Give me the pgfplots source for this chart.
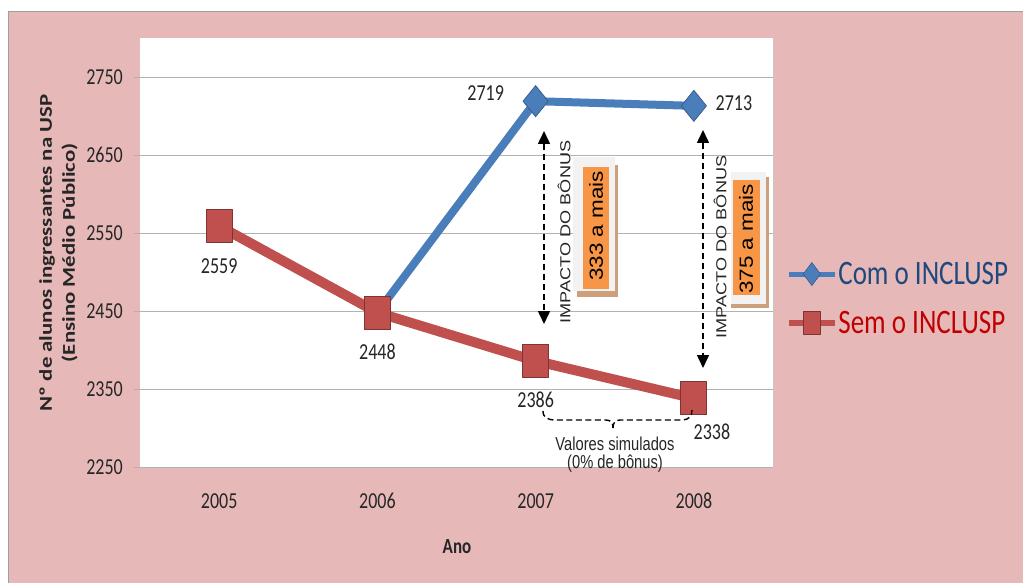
\documentclass[border=0pt]{standalone}
\usepackage{pgfplots}
\pgfplotsset{compat=1.18}
\usepackage{pgfplotstable}
\usepackage{graphicx}
\usepackage{fontspec}
\setmainfont{Carlito}
\newfontfamily\arial{Liberation Sans}
\usetikzlibrary{arrows.meta}
\definecolor{bgpink}{RGB}{230,185,184}
\definecolor{cblue}{RGB}{74,126,187}
\definecolor{cred}{RGB}{192,80,77}
\definecolor{cgrid}{RGB}{178,178,178}
\definecolor{legblue}{RGB}{31,73,125}
\definecolor{legred}{RGB}{192,0,0}
\definecolor{borange}{RGB}{247,150,70}
\definecolor{btan}{RGB}{205,160,125}
\definecolor{bgray}{RGB}{242,242,242}
\definecolor{txt}{RGB}{38,38,38}
\newcommand{\fs}[1]{\fontsize{#1pt}{#1pt}\selectfont}
\newcommand{\sy}[1]{\scalebox{1}[1.27]{#1}}
\newcommand{\sx}[2][1.27]{\scalebox{#1}[1]{#2}}

\pgfplotstableread{
x y
0 2559
1 2448
2 2386
3 2338
}\semtable
\pgfplotstableread{
x y
1 2448
2 2719
3 2713
}\comtable

\begin{document}
\begin{tikzpicture}
\begin{scope}[x=1pt,y=-1pt]
\useasboundingbox (0,0) rectangle (1023,583);
\fill[white] (0,0) rectangle (1023,583);
\fill[bgpink] (8,12) rectangle (1023,583);
\draw[gray!75, line width=1pt] (8,583) -- (8,12) -- (1023,12);
\fill[white] (140,38) rectangle (773,467);
\draw[gray!45, line width=1pt] (773.5,38) -- (773.5,467);
\end{scope}

\begin{axis}[
  at={(140pt,-467pt)}, anchor=south west,
  width=633pt, height=429pt, scale only axis,
  xmin=-0.5, xmax=3.5, ymin=2250, ymax=2800,
  axis x line*=bottom, axis y line*=left,
  x axis line style={cgrid, line width=1pt, -},
  y axis line style={draw=none},
  xtick={0,1,2,3},
  xticklabels={\sy{2005},\sy{2006},\sy{2007},\sy{2008}},
  ytick={2250,2350,2450,2550,2650,2750},
  yticklabels={\sy{2250},\sy{2350},\sy{2450},\sy{2550},\sy{2650},\sy{2750}},
  ymajorgrids, grid style={cgrid, line width=1pt},
  tick align=outside, major tick length=6pt,
  ytick style={cgrid, line width=1pt},
  xtick style={draw=none},
  yticklabel style={font=\fs{18}, text=txt, anchor=east, inner sep=0pt, xshift=-11pt},
  xticklabel style={font=\fs{18}, text=txt, anchor=north, inner sep=0pt, yshift=-20pt},
  clip=false,
  legend style={at={(axis description cs:1.02,0.393)}, anchor=west, draw=none, fill=none,
    font=\fs{27}, row sep=24pt, inner sep=0pt, column sep=0pt,
    nodes={inner sep=0.5pt, anchor=west}},
  legend cell align=left,
]
\addplot[cblue, line width=8pt, line join=round, forget plot] table {\comtable};
\addplot[only marks, mark=diamond*, restrict x to domain=1.5:3.5, mark size=15.5pt,
  mark options={fill=cblue, draw=cblue!75!black, line width=0.8pt, xscale=1.08},
  legend image code/.code={
    \draw[cblue, line width=5pt] (0pt,0pt) -- (46pt,0pt);
    \draw[cblue] plot[only marks, mark=diamond*, mark size=11.5pt,
      mark options={fill=cblue, draw=cblue!75!black, line width=0.6pt}] coordinates {(23pt,0pt)};
  }] table {\comtable};
\addlegendentry{\sy{\textcolor{legblue}{Com o INCLUSP}}}
\addplot[cred, line width=10pt, line join=round, mark=square*, mark size=13pt,
  mark options={fill=cred, draw=cred!65!black, line width=0.8pt, yscale=1.27, solid},
  legend image code/.code={
    \draw[cred, line width=6pt] (0pt,0pt) -- (46pt,0pt);
    \draw[cred] plot[only marks, mark=square*, mark size=8.5pt,
      mark options={fill=cred, draw=cred!65!black, line width=0.6pt, yscale=1.35}] coordinates {(23pt,0pt)};
  }] table {\semtable};
\addlegendentry{\sy{\textcolor{legred}{Sem o INCLUSP}}}

\node[font=\fs{18}, text=txt] at (axis cs:0,2559) [yshift=-40pt] {\sy{2559}};
\node[font=\fs{18}, text=txt] at (axis cs:1,2448) [yshift=-39.5pt] {\sy{2448}};
\node[font=\fs{18}, text=txt] at (axis cs:2,2386) [yshift=-39pt] {\sy{2386}};
\node[font=\fs{18}, text=txt] at (axis cs:3,2338) [xshift=18pt, yshift=-33pt] {\sy{2338}};
\node[font=\fs{18}, text=txt] at (axis cs:2,2719) [xshift=-50pt, yshift=8pt] {\sy{2719}};
\node[font=\fs{18}, text=txt] at (axis cs:3,2713) [xshift=40pt, yshift=3pt] {\sy{2713}};
\end{axis}

\begin{scope}[x=1pt,y=-1pt]
% axis titles
\node[rotate=90, align=center, font=\bfseries\fontsize{18}{23}\selectfont, text=txt] at (58.5,253)
  {\sx{Nº de alunos ingressantes na USP}\\\sx{(Ensino Médio Público)}};
\node[font=\bfseries\fs{17}, text=txt] at (457,547) {\sy{Ano}};

% impact arrows
\draw[black, line width=1.5pt, dash pattern=on 6pt off 4pt,
  {Triangle[width=12pt,length=13pt]}-{Triangle[width=12pt,length=13pt]}] (544,131) -- (544,324);
\draw[black, line width=1.5pt, dash pattern=on 6pt off 4pt,
  {Triangle[width=12pt,length=13pt]}-{Triangle[width=12pt,length=13pt]}] (703,130) -- (703,368);
\node[rotate=90, font=\arial\fs{14.5}, text=txt] at (564,232) {\sx[1.25]{IMPACTO DO BÔNUS}};
\node[rotate=90, font=\arial\fs{14.5}, text=txt] at (720,247) {\sx[1.25]{IMPACTO DO BÔNUS}};

% boxes
\fill[btan] (577,165) rectangle (618,297);
\fill[bgray] (573,157) rectangle (615,291);
\fill[borange] (583,167) rectangle (609,289);
\node[rotate=90, font=\arial\fs{19}, text=black] at (596,226) {\sx[1.18]{333 a mais}};

\fill[btan] (731,177) rectangle (769,308);
\fill[bgray] (731,172) rectangle (766,304);
\fill[borange] (733,180) rectangle (760,295);
\node[rotate=90, font=\arial\fs{19}, text=black] at (746,239) {\sx[1.18]{375 a mais}};

% brace for simulated values
\draw[black, line width=1.4pt, dash pattern=on 6pt off 3.5pt]
  (543,411) .. controls (543,418) and (548,420) .. (556,420) -- (606,420)
  .. controls (611,420) and (613,423) .. (613,428);
\draw[black, line width=1.4pt, dash pattern=on 6pt off 3.5pt]
  (613,428) .. controls (613,423) and (615,420) .. (620,420) -- (682,420)
  .. controls (689,420) and (692,416) .. (692,410);
\node[font=\arial\fs{14.7}, text=txt] at (615,444) {\sy{Valores simulados}};
\node[font=\arial\fs{14.7}, text=txt] at (615,464) {\sy{(0\% de bônus)}};
\end{scope}
\end{tikzpicture}
\end{document}
